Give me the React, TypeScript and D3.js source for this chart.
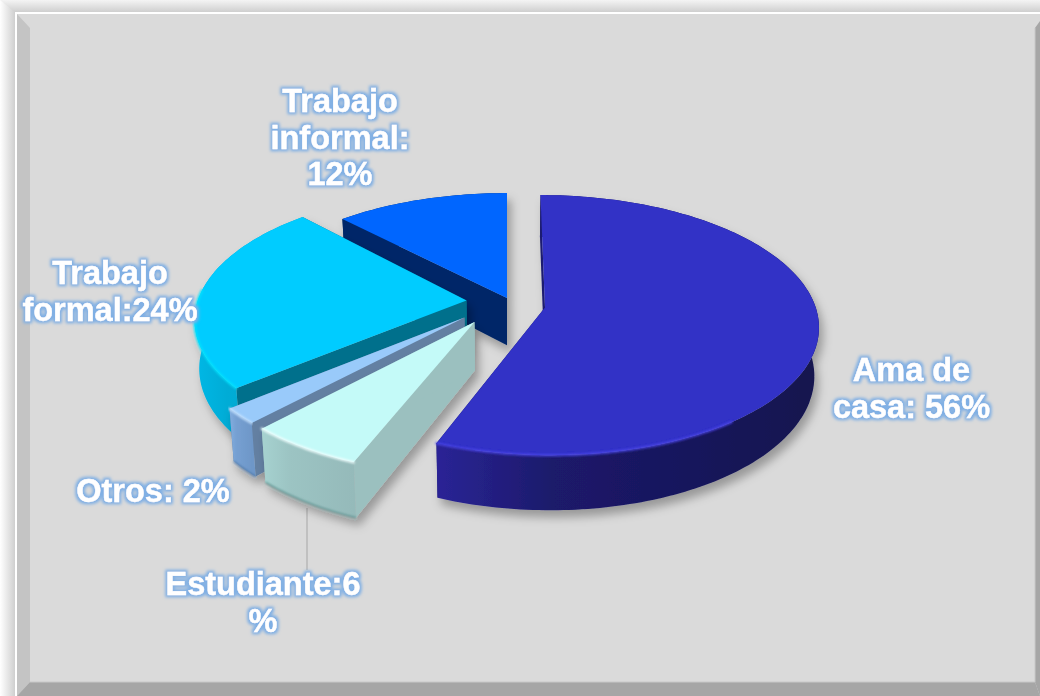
import React from "react";
import * as d3 from "d3";

const categories = ["Ama de casa", "Estudiante", "Otros", "Trabajo formal", "Trabajo informal"];
const values = [56, 6, 2, 24, 12];
const labelLines = [
  ["Ama de", "casa: 56%"],
  ["Estudiante:6", "%"],
  ["Otros: 2%"],
  ["Trabajo", "formal:24%"],
  ["Trabajo", "informal:", "12%"],
];

// layout
const W = 1040, H = 696;
const x0 = 507, y0 = 305;
const R = 270, Rk = 127, P = 0.135;
const DEPTH = 47.5, CONV = 0.015;
const apexes: [number, number][] = [[545, 307.5], [474.5, 322], [464.5, 317.5], [466.5, 300.5], [507, 298]];
const sliceYScale = [1, 1, 1, 1, 0.945];
const sliceXScale = [1, 1, 1, 1, 0.98];
const labelAnchors: [number, number][] = [[911.5, 381], [263, 595], [153, 502], [110, 284], [340, 112]];
const LINE_H = 36.5;

const faceColors = ["#3030C6", "#C4FAF8", "#99CAFA", "#00CCFF", "#0066FF"];
const cutColors = ["#1C1A70", "#9BC0BF", "#6480A2", "#00708C", "#002868"];
const wallLeft = ["#2A2496", "#A6D2D0", "#82AEE0", "#00B8E6", "#002868"];
const wallRight = ["#13134E", "#95BABA", "#6E97C8", "#00A4CC", "#002868"];
const rimColors = ["#4A44E6", "#F2FFFF", "#C8E4FF", "#00E4FF", "#0066FF"];
const bevelColors = ["none", "#5F908E", "#4F78A8", "none", "none"];
const rimMaxSin = [0.6, 2, 2, 2, 2];
const drawOrder = [4, 0, 3, 2, 1];

const arcs = d3.pie<number>().sort(null).startAngle(0).endAngle(2 * Math.PI)(values);
const lineGen = d3.line<[number, number]>().x(d => d[0]).y(d => d[1]);

type Off = { u: number; v: number; ys: number; xs: number };

function planeOffset([X, Y]: [number, number], ys: number, xs: number): Off {
  const w = (Y - y0) / Rk;
  const s = 1 + P * w;
  return { u: (X - x0) / s / R, v: w / s, ys, xs };
}
function proj(off: Off, a: number | null): [number, number] {
  const u = off.u + (a === null ? 0 : Math.sin(a) * off.xs);
  const v = off.v + (a === null ? 0 : -Math.cos(a) * off.ys);
  const s = 1 / (1 - P * v);
  return [x0 + R * u * s, y0 + Rk * v * s];
}
function lower(p: [number, number], off: Off, a: number | null): [number, number] {
  const v = off.v + (a === null ? 0 : -Math.cos(a));
  const s = 1 / (1 - P * v);
  return [x0 + (p[0] - x0) * (1 - CONV), p[1] + DEPTH * s];
}
function arcAngles(a0: number, a1: number) {
  const n = Math.max(4, Math.ceil((a1 - a0) / 0.02));
  return d3.range(n + 1).map(i => a0 + ((a1 - a0) * i) / n);
}

const Slice = ({ i }: { i: number }) => {
  const arc = arcs[i];
  const off = planeOffset(apexes[i], sliceYScale[i], sliceXScale[i]);
  const angs = arcAngles(arc.startAngle, arc.endAngle);
  const top = angs.map(a => proj(off, a));
  const bot = angs.map((a, k) => lower(top[k], off, a));
  const apex = proj(off, null);
  const apexLow = lower(apex, off, null);
  const xs = top.map(p => p[0]);
  const [minX, maxX] = d3.extent(xs) as [number, number];
  const gid = `wall${i}`;
  // rim only along the part of the arc that faces the viewer
  const rim = angs.filter(a => Math.cos(a) < 0.1 && Math.sin(a) < rimMaxSin[i]).map(a => proj(off, a));
  const cut = (k: number) => lineGen([apex, top[k], bot[k], apexLow])! + "Z";
  return (
    <g filter="url(#shadow)">
      <defs>
        <linearGradient id={gid} gradientUnits="userSpaceOnUse" x1={minX} x2={maxX} y1={0} y2={0}>
          <stop offset="0" stopColor={wallLeft[i]} />
          <stop offset="0.3" stopColor={d3.interpolateRgb(wallLeft[i], wallRight[i])(0.6)} />
          <stop offset="1" stopColor={wallRight[i]} />
        </linearGradient>
      </defs>
      <path d={cut(0)} fill={cutColors[i]} />
      <path d={cut(top.length - 1)} fill={cutColors[i]} />
      <path d={lineGen([...top, ...bot.slice().reverse()])! + "Z"} fill={`url(#${gid})`} />
      {bevelColors[i] !== "none" && (
        <path d={lineGen(bot)!} fill="none" stroke={bevelColors[i]} strokeWidth={1.6} filter="url(#soft)" />
      )}
      <path d={lineGen([apex, ...top])! + "Z"} fill={faceColors[i]} />
      {rim.length > 1 && (
        <path d={lineGen(rim)!} fill="none" stroke={rimColors[i]} strokeWidth={2.2} filter="url(#soft)" strokeLinecap="round" />
      )}
    </g>
  );
};

export default function App() {
  const fontFamily = '"Liberation Sans", Arial, sans-serif';
  return (
    <svg width={W} height={H} viewBox={`0 0 ${W} ${H}`} style={{ position: "absolute", left: 0, top: 0 }}>
      <defs>
        <linearGradient id="outerTop" x1="0" x2="0" y1="0" y2="1">
          <stop offset="0" stopColor="#F4F4F4" />
          <stop offset="1" stopColor="#CFCFCF" />
        </linearGradient>
        <linearGradient id="outerLeft" x1="0" x2="1" y1="0" y2="0">
          <stop offset="0" stopColor="#FFFFFF" />
          <stop offset="1" stopColor="#CFCFCF" />
        </linearGradient>
        <filter id="shadow" x="-20%" y="-20%" width="140%" height="140%">
          <feDropShadow dx="4" dy="7" stdDeviation="5" floodColor="#000" floodOpacity="0.3" />
        </filter>
        <filter id="soft" x="-5%" y="-20%" width="110%" height="140%">
          <feGaussianBlur stdDeviation="0.8" />
        </filter>
        <filter id="glow" x="-20%" y="-30%" width="140%" height="160%">
          <feMorphology in="SourceAlpha" operator="dilate" radius="2.4" result="d" />
          <feGaussianBlur in="d" stdDeviation="1.7" result="b" />
          <feFlood floodColor="#7FAFE4" />
          <feComposite in2="b" operator="in" result="g" />
          <feMerge>
            <feMergeNode in="g" />
            <feMergeNode in="SourceGraphic" />
          </feMerge>
        </filter>
      </defs>

      {/* frame */}
      <rect x={0} y={0} width={W} height={H} fill="#D8D8D8" />
      <rect x={0} y={0} width={15} height={H} fill="url(#outerLeft)" />
      <rect x={0} y={0} width={W} height={12} fill="url(#outerTop)" />
      <path d="M0 0L15 12L0 12Z" fill="url(#outerLeft)" />
      <rect x={15} y={12} width={W - 15} height={2} fill="#FFFFFF" />
      <rect x={15} y={12} width={2} height={H - 12} fill="#FFFFFF" />
      <rect x={17} y={14} width={W - 17} height={H - 14} fill="#DADADA" />
      <path d="M17 14L30 28L30 682L17 696Z" fill="#C4C4C4" />
      <path d="M17 696L30 682L1035 682L1040 696Z" fill="#A6A6A6" />
      <path d="M1040 21L1035 28L1035 682L1040 696Z" fill="#A6A6A6" />
      <path d="M30 682H1035V28" fill="none" stroke="#C8C8C8" strokeWidth={1} />

      {/* leader */}
      <line x1={307} x2={307} y1={508} y2={570} stroke="#A6A6A6" strokeWidth={1} />

      {drawOrder.map(i => (
        <Slice key={categories[i]} i={i} />
      ))}

      <g filter="url(#glow)" fontFamily={fontFamily} fontWeight={700} fontSize={32.5} fill="#FFFFFF" stroke="#FFFFFF" strokeWidth={0.4} textAnchor="middle">
        {labelLines.map((lines, i) => (
          <text key={categories[i]}>
            {lines.map((t, k) => (
              <tspan key={k} x={labelAnchors[i][0]} y={labelAnchors[i][1] + k * LINE_H}>
                {t}
              </tspan>
            ))}
          </text>
        ))}
      </g>
    </svg>
  );
}
